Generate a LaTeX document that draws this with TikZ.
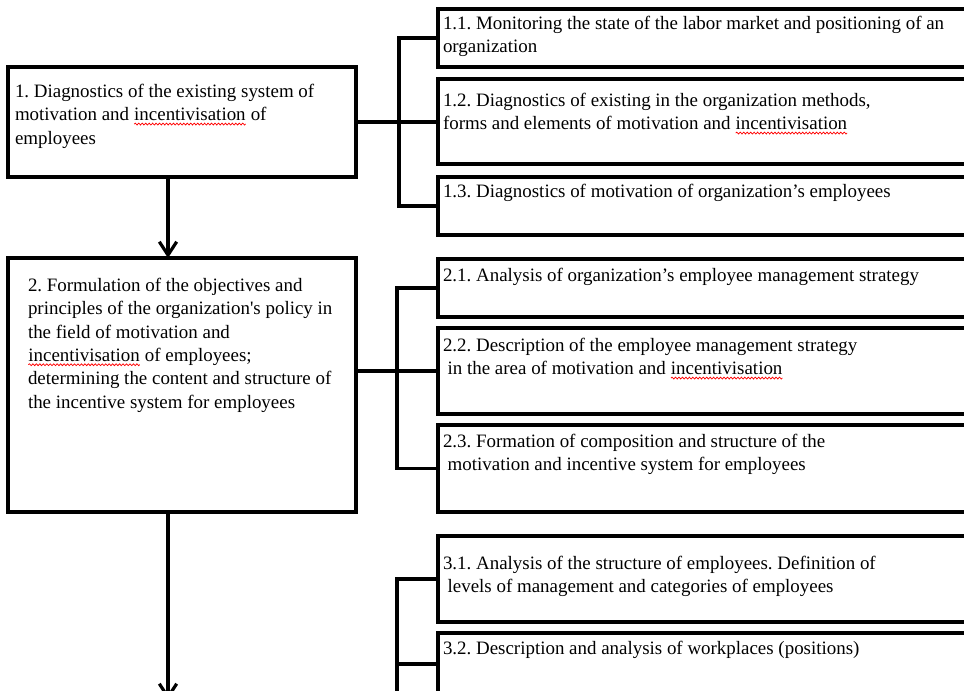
\documentclass[tikz,border=0pt]{standalone}
\usepackage{fontspec}
\setmainfont{Liberation Serif}
\usetikzlibrary{arrows.meta,decorations.pathmorphing}
\frenchspacing
\newcommand\fl{\rule{0pt}{13pt}}
\newcommand\sqw[1]{\tikz[baseline=(sqn.base)]{\node[inner sep=0pt,outer sep=0pt,draw=none,anchor=base] (sqn) {#1};\draw[red,line width=0.55pt,decorate,decoration={snake,amplitude=0.7pt,segment length=2.6pt}] ([yshift=-2.4pt]sqn.base west) -- ([yshift=-2.4pt]sqn.base east);}}
\begin{document}
\begin{tikzpicture}[x=0.75pt,y=-0.75pt,
  lbox/.style={draw,line width=2.4pt,inner sep=0pt,outer sep=0pt,anchor=north west,minimum width=261pt},
  rbox/.style={draw,line width=2.4pt,inner sep=0pt,outer sep=0pt,anchor=north west,minimum width=421.5pt},
  txt/.style={anchor=north west,inner sep=0pt,outer sep=0pt,align=left,font=\fontsize{14.2}{17.5}\selectfont},
  conn/.style={draw,line width=2.4pt},
  arr/.style={draw,line width=2.4pt,-{Straight Barb[length=10pt,width=13pt,line width=2.4pt]}}]
\useasboundingbox (0,0) rectangle (964,691);
\fill[white] (0,0) rectangle (964,691);
\clip (0,0) rectangle (964,691);

% left boxes
\node[lbox,minimum height=82.5pt] (b1) at (8,67) {};
\node[lbox,minimum height=190.5pt] (b2) at (8,258) {};
\node[txt] (t1) at (15,80.2) {\fl 1. Diagnostics of the existing system of\\motivation and \sqw{incentivisation} of\\employees};
\node[txt] (t2) at (28,274.2) {\fl 2. Formulation of the objectives and\\principles of the organization\textquotesingle s policy in\\the field of motivation and\\\sqw{incentivisation} of employees;\\determining the content and structure of\\the incentive system for employees};

% right boxes
\node[rbox,minimum height=43.5pt] (r11) at (438,9) {};
\node[rbox,minimum height=63.75pt] (r12) at (438,79) {};
\node[rbox,minimum height=43.5pt] (r13) at (438,177) {};
\node[rbox,minimum height=43.5pt] (r21) at (438,259) {};
\node[rbox,minimum height=64.5pt] (r22) at (438,328) {};
\node[rbox,minimum height=65.25pt] (r23) at (438,425) {};
\node[rbox,minimum height=64.5pt] (r31) at (438,536) {};
\node[rbox,minimum height=46.5pt] (r32) at (438,633) {};

\node[txt] (t11) at (443,12.2) {\fl 1.1. Monitoring the state of the labor market and positioning of an\\organization};
\node[txt] (t12) at (443,89.2) {\fl 1.2. Diagnostics of existing in the organization methods,\\forms and elements of motivation and \sqw{incentivisation}};
\node[txt] (t13) at (443,180.2) {\fl 1.3. Diagnostics of motivation of organization’s employees};
\node[txt] (t21) at (443,264.2) {\fl 2.1. Analysis of organization’s employee management strategy};
\node[txt] (t22) at (443,334.2) {\fl 2.2. Description of the employee management strategy\\\hspace*{3.5pt}in the area of motivation and \sqw{incentivisation}};
\node[txt] (t23) at (443,430.2) {\fl 2.3. Formation of composition and structure of the\\\hspace*{3.5pt}motivation and incentive system for employees};
\node[txt] (t31) at (443,552.2) {\fl 3.1. Analysis of the structure of employees. Definition of\\\hspace*{3.5pt}levels of management and categories of employees};
\node[txt] (t32) at (443,637.2) {\fl 3.2. Description and analysis of workplaces (positions)};

% connectors
\draw[conn] (b1.east) -- (b1.east -| r12.west);
\draw[conn] (r11.west) -- ++(-39,0) |- (r13.west);
\draw[conn] (b2.east |- r22.west) -- ([xshift=1.5pt]r22.west);
\draw[conn] (r21.west) -- ++(-41,0) |- (r23.west);
\coordinate (b3e) at (397,700);
\draw[conn] (r31.west) -- ++(-41,0) -- (b3e);
\draw[conn] (r32.west) -- ++(-41,0);

% arrows
\coordinate (ax) at (168,0);
\coordinate (a2e) at (168,700);
\draw[arr] (ax |- b1.south) -- (ax |- b2.north);
\draw[arr] (ax |- b2.south) -- (a2e);
\end{tikzpicture}
\end{document}
